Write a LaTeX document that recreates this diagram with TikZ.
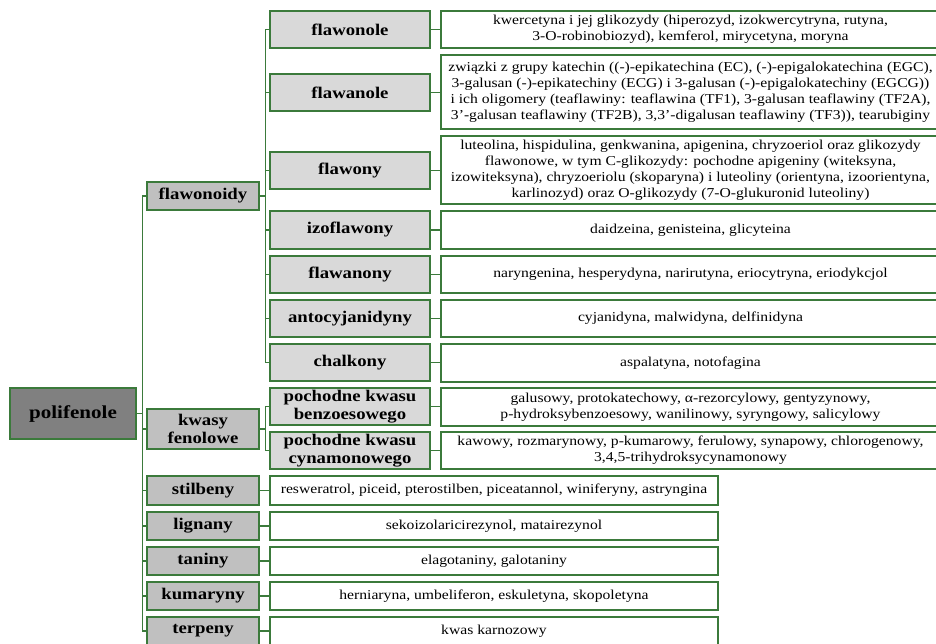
\documentclass[tikz,border=0pt]{standalone}
\usepackage{fontspec}
\setmainfont{Liberation Serif}[FakeStretch=1.15]
\definecolor{edgegreen}{HTML}{3B7A3B}
\definecolor{fillroot}{HTML}{808080}
\definecolor{fillmid}{HTML}{C0C0C0}
\definecolor{filllow}{HTML}{D9D9D9}
\tikzset{
  box/.style={draw=edgegreen, line width=1.5pt, inner sep=0pt, align=center, text=black},
  rootbox/.style={box, fill=fillroot, minimum width=126pt, minimum height=51pt,
    font=\bfseries\fontsize{18.3}{20}\selectfont},
  midbox/.style={box, fill=fillmid, minimum width=112pt, minimum height=28pt,
    font=\bfseries\fontsize{16.3}{17.7}\selectfont},
  lowbox/.style={box, fill=filllow, minimum width=160pt, minimum height=37pt,
    font=\bfseries\fontsize{16.3}{17.7}\selectfont},
  descbox/.style={box, fill=white, minimum width=499pt, minimum height=37pt,
    font=\fontsize{13.6}{15.9}\selectfont},
  shortdesc/.style={box, fill=white, minimum width=448pt, minimum height=28pt,
    font=\fontsize{13.6}{15.9}\selectfont},
  conn/.style={draw=edgegreen, line width=1.35pt},
}
\begin{document}
\begin{tikzpicture}[x=1pt, y=-1pt]
\useasboundingbox (0,0) rectangle (936,643);
\clip (0,0) rectangle (936,643);

% root
\node[rootbox] (poli) at (73,413.5) {polifenole};

% second level
\node[midbox] (flawonoidy) at (203,196) {flawonoidy};
\node[midbox, minimum height=40pt] (kwasy) at (203,429) {kwasy\\fenolowe};
\node[midbox, minimum height=29pt] (stilbeny) at (203,490.5) {stilbeny};
\node[midbox] (lignany) at (203,526) {lignany};
\node[midbox] (taniny) at (203,561) {taniny};
\node[midbox] (kumaryny) at (203,596) {kumaryny};
\node[midbox] (terpeny) at (203,631) {terpeny};

% third level
\node[lowbox] (flawonole) at (350,29.5) {flawonole};
\node[lowbox] (flawanole) at (350,92.5) {flawanole};
\node[lowbox] (flawony) at (350,170.5) {flawony};
\node[lowbox, minimum height=38pt] (izoflawony) at (350,230) {izoflawony};
\node[lowbox] (flawanony) at (350,274.5) {flawanony};
\node[lowbox] (antocyj) at (350,318.5) {antocyjanidyny};
\node[lowbox] (chalkony) at (350,362.5) {chalkony};
\node[lowbox] (benzo) at (350,406.5) {pochodne kwasu\\benzoesowego};
\node[lowbox] (cynam) at (350,450.5) {pochodne kwasu\\cynamonowego};

% descriptions of the flavonoid and phenolic acid groups
\node[descbox] (d1) at (690.5,29.5) {kwercetyna i jej glikozydy (hiperozyd, izokwercytryna, rutyna,\\3-O-robinobiozyd), kemferol, mirycetyna, moryna};
\node[descbox, minimum height=74pt] (d2) at (690.5,92) {związki z grupy katechin ((-)-epikatechina (EC), (-)-epigalokatechina (EGC),\\3-galusan (-)-epikatechiny (ECG) i 3-galusan (-)-epigalokatechiny (EGCG))\\i ich oligomery (teaflawiny: teaflawina (TF1), 3-galusan teaflawiny (TF2A),\\3’-galusan teaflawiny (TF2B), 3,3’-digalusan teaflawiny (TF3)), tearubiginy};
\node[descbox, minimum height=68pt] (d3) at (690.5,170) {luteolina, hispidulina, genkwanina, apigenina, chryzoeriol oraz glikozydy\\flawonowe, w tym C-glikozydy: pochodne apigeniny (witeksyna,\\izowiteksyna), chryzoeriolu (skoparyna) i luteoliny (orientyna, izoorientyna,\\karlinozyd) oraz O-glikozydy (7-O-glukuronid luteoliny)};
\node[descbox, minimum height=38pt] (d4) at (690.5,230) {daidzeina, genisteina, glicyteina};
\node[descbox] (d5) at (690.5,274.5) {naryngenina, hesperydyna, narirutyna, eriocytryna, eriodykcjol};
\node[descbox] (d6) at (690.5,318.5) {cyjanidyna, malwidyna, delfinidyna};
\node[descbox, minimum height=38pt] (d7) at (690.5,363) {aspalatyna, notofagina};
\node[descbox, minimum height=38pt] (d8) at (690.5,407) {galusowy, protokatechowy, α-rezorcylowy, gentyzynowy,\\p-hydroksybenzoesowy, wanilinowy, syryngowy, salicylowy};
\node[descbox] (d9) at (690.5,450.5) {kawowy, rozmarynowy, p-kumarowy, ferulowy, synapowy, chlorogenowy,\\3,4,5-trihydroksycynamonowy};

% descriptions of the remaining groups
\node[shortdesc, minimum height=29pt] (s1) at (494,490.5) {resweratrol, piceid, pterostilben, piceatannol, winiferyny, astryngina};
\node[shortdesc] (s2) at (494,526) {sekoizolaricirezynol, matairezynol};
\node[shortdesc] (s3) at (494,561) {elagotaniny, galotaniny};
\node[shortdesc] (s4) at (494,596) {herniaryna, umbeliferon, eskuletyna, skopoletyna};
\node[shortdesc] (s5) at (494,631) {kwas karnozowy};

% tree connectors
\foreach \c in {flawonoidy,kwasy,stilbeny,lignany,taniny,kumaryny,terpeny}
  \draw[conn] (poli.east) -- ++(6pt,0) |- (\c.west);
\foreach \c in {flawonole,flawanole,flawony,izoflawony,flawanony,antocyj,chalkony}
  \draw[conn] (flawonoidy.east) -- ++(6pt,0) |- (\c.west);
\foreach \c in {benzo,cynam}
  \draw[conn] (kwasy.east) -- ++(6pt,0) |- (\c.west);

% links to the descriptions
\foreach \a/\b in {flawonole/d1,flawanole/d2,flawony/d3,izoflawony/d4,flawanony/d5,antocyj/d6,chalkony/d7,benzo/d8,cynam/d9,stilbeny/s1,lignany/s2,taniny/s3,kumaryny/s4,terpeny/s5}
  \draw[conn] (\a.east) -- (\a.east -| \b.west);
\end{tikzpicture}
\end{document}
